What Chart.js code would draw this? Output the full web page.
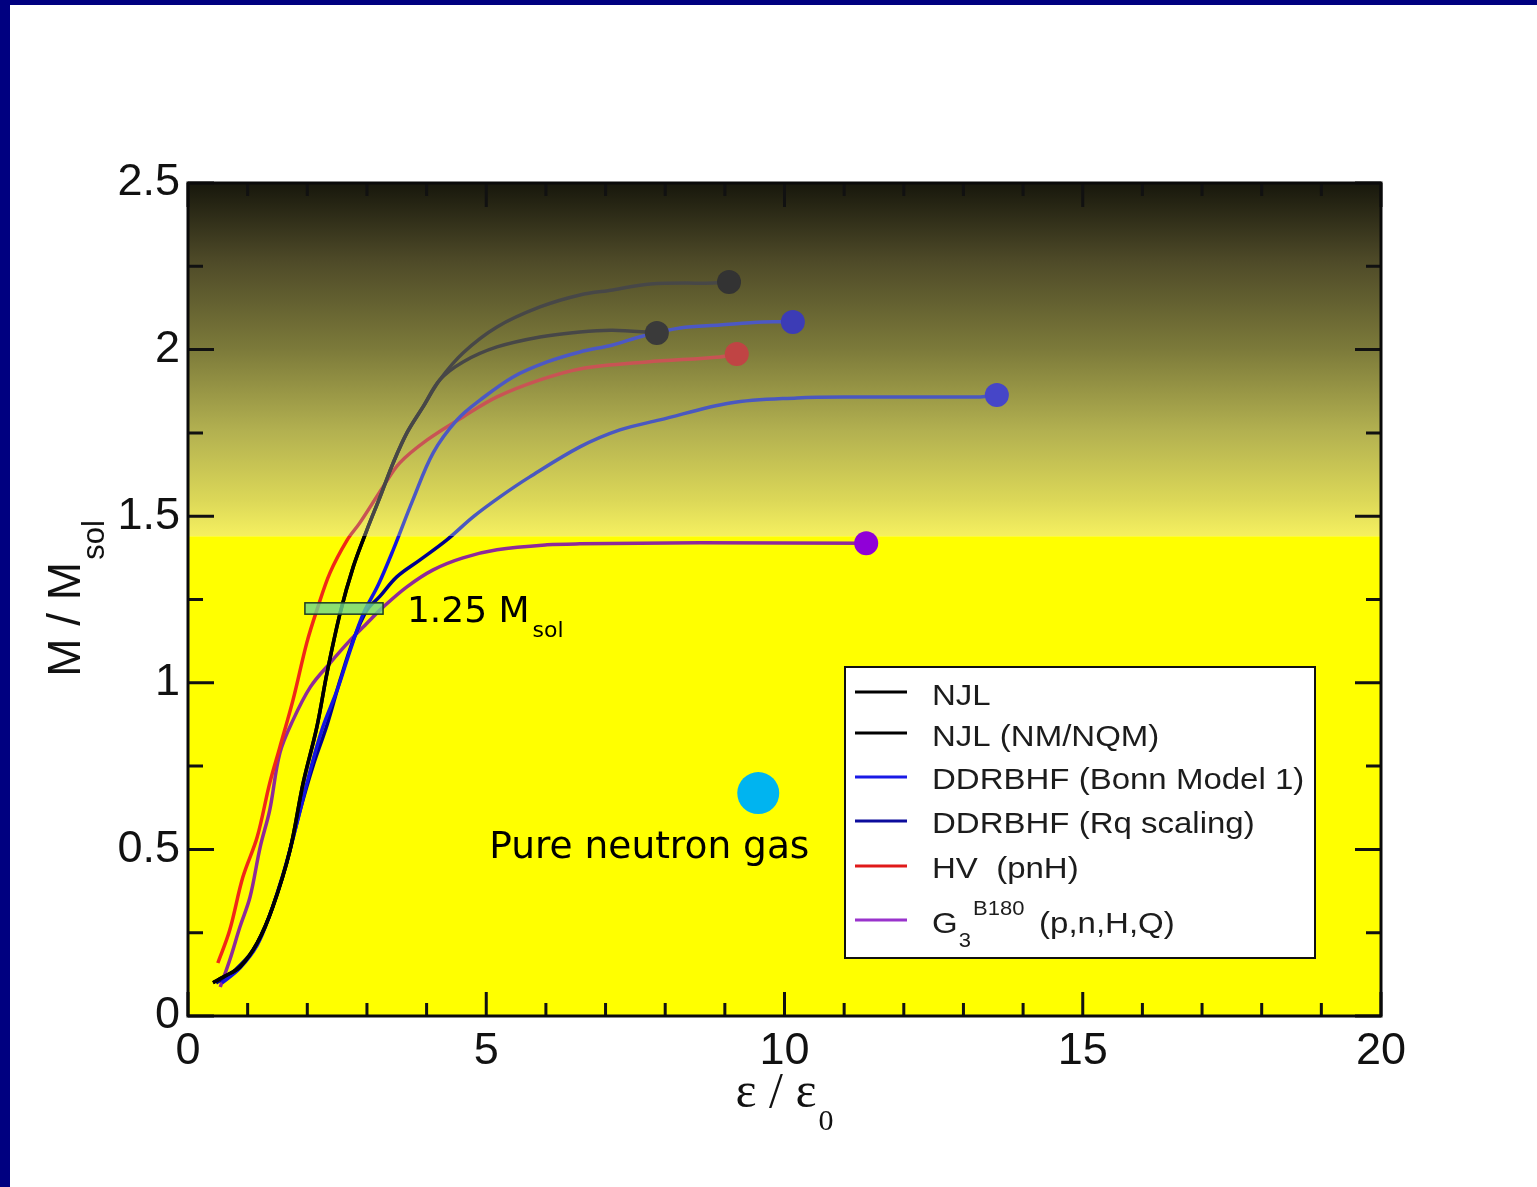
<!DOCTYPE html>
<html>
<head>
<meta charset="utf-8">
<script src="https://cdn.jsdelivr.net/npm/chart.js@4.4.1/dist/chart.umd.min.js"></script>
<style>
  html, body { margin: 0; padding: 0; background: #fff; }
  #wrap { position: relative; width: 1537px; height: 1187px; overflow: hidden; }
  #wrap canvas { position: absolute; left: 0; top: 0; }
  .edge { position: absolute; background: #000080; }
</style>
</head>
<body>
<div id="wrap">
  <canvas id="chart" width="1537" height="1187"></canvas>
  <div class="edge" style="left:0;top:0;width:1537px;height:5px"></div>
  <div class="edge" style="left:0;top:0;width:10px;height:1187px"></div>
</div>
<script>
// mass (M / Msol) against central energy density (eps / eps0)
const njlX = [0.42, 0.59, 0.87, 1.16, 1.42, 1.71, 1.93, 2.16, 2.33, 2.55, 2.77, 3.00, 3.22, 3.44, 3.67, 3.94, 4.22, 4.61, 5.18, 5.90, 6.57, 7.12, 7.75, 8.80, 9.07];
const njlY = [0.100, 0.117, 0.147, 0.219, 0.327, 0.498, 0.699, 0.867, 1.029, 1.209, 1.348, 1.459, 1.558, 1.660, 1.750, 1.828, 1.909, 1.990, 2.068, 2.128, 2.164, 2.179, 2.197, 2.200, 2.203];

const njlNmX = [0.42, 0.59, 0.87, 1.16, 1.42, 1.71, 1.93, 2.16, 2.33, 2.55, 2.77, 3.00, 3.22, 3.44, 3.67, 3.94, 4.22, 4.61, 5.18, 5.90, 6.57, 7.12, 7.86];
const njlNmY = [0.100, 0.117, 0.147, 0.219, 0.327, 0.498, 0.699, 0.867, 1.029, 1.209, 1.348, 1.459, 1.558, 1.660, 1.750, 1.828, 1.909, 1.963, 2.008, 2.038, 2.053, 2.058, 2.050];

const bonnX = [0.57, 0.87, 1.16, 1.37, 1.59, 1.83, 2.05, 2.26, 2.50, 2.72, 2.93, 3.19, 3.44, 3.77, 4.11, 4.51, 4.90, 5.45, 6.02, 6.57, 7.12, 7.63, 8.25, 8.92, 9.64, 10.14];
const bonnY = [0.099, 0.144, 0.213, 0.303, 0.423, 0.582, 0.738, 0.867, 0.978, 1.098, 1.204, 1.294, 1.399, 1.549, 1.690, 1.789, 1.849, 1.918, 1.963, 1.993, 2.014, 2.041, 2.065, 2.074, 2.083, 2.083];

const rqX = [0.47, 0.79, 1.09, 1.37, 1.63, 1.88, 2.10, 2.33, 2.55, 2.77, 3.00, 3.22, 3.50, 3.89, 4.34, 4.78, 5.23, 5.73, 6.57, 7.24, 7.91, 9.09, 10.21, 11.10, 13.28, 13.56];
const rqY = [0.099, 0.138, 0.198, 0.303, 0.444, 0.618, 0.753, 0.873, 1.008, 1.128, 1.218, 1.260, 1.318, 1.369, 1.429, 1.498, 1.558, 1.618, 1.708, 1.759, 1.789, 1.840, 1.855, 1.858, 1.858, 1.864];

const hvX = [0.50, 0.70, 0.92, 1.16, 1.37, 1.54, 1.76, 1.99, 2.16, 2.38, 2.67, 2.88, 3.27, 3.55, 4.01, 4.61, 5.18, 5.90, 6.57, 7.69, 8.92, 9.20];
const hvY = [0.159, 0.258, 0.417, 0.537, 0.699, 0.807, 0.948, 1.119, 1.218, 1.330, 1.429, 1.480, 1.588, 1.660, 1.729, 1.798, 1.858, 1.909, 1.942, 1.963, 1.978, 1.987];

const g3X = [0.54, 0.70, 0.87, 1.04, 1.21, 1.37, 1.54, 1.76, 2.05, 2.38, 2.72, 3.00, 3.27, 3.67, 4.11, 4.61, 5.18, 6.02, 6.57, 8.58, 11.37];
const g3Y = [0.087, 0.168, 0.267, 0.357, 0.507, 0.618, 0.789, 0.888, 0.987, 1.059, 1.128, 1.179, 1.227, 1.288, 1.339, 1.375, 1.399, 1.414, 1.417, 1.420, 1.419];

const legendLabels = ['NJL', 'NJL (NM/NQM)', 'DDRBHF (Bonn Model 1)', 'DDRBHF (Rq scaling)', 'HV  (pnH)', 'G'];
const legendColors = ['#000000', '#000000', '#1a1ae6', '#0c0c9c', '#e01a1a', '#9933cc'];

const xTicks = [0, 5, 10, 15, 20];
const yTicks = [0, 0.5, 1, 1.5, 2, 2.5];

// observed mass band and the neutron gas marker
const SPLIT = 1.44;
const band = { x0: 1.96, x1: 3.27, y0: 1.206, y1: 1.240 };
const bandLabel = { x: 3.67, y: 1.182 };
const gasDot = { x: 9.56, y: 0.669 };
const gasLabel = { x: 5.05, y: 0.474 };

function series(xs, ys) {
  return xs.map((x, i) => ({ x, y: ys[i] }));
}

// line colour changes where it enters the shaded region
function splitStroke(low, high) {
  return ctx => {
    const chart = ctx.chart;
    const area = chart.chartArea;
    if (!area) return low;
    const yp = chart.scales.y.getPixelForValue(SPLIT);
    const f = Math.min(1, Math.max(0, (yp - area.top) / (area.bottom - area.top)));
    const g = chart.ctx.createLinearGradient(0, area.top, 0, area.bottom);
    g.addColorStop(0, high);
    g.addColorStop(f, high);
    g.addColorStop(f, low);
    g.addColorStop(1, low);
    return g;
  };
}

function curve(label, xs, ys, low, high, dot) {
  return {
    label,
    data: series(xs, ys),
    borderColor: splitStroke(low, high),
    borderWidth: 3.5,
    tension: 0.35,
    pointRadius: c => c.dataIndex === xs.length - 1 ? 12 : 0,
    pointHoverRadius: c => c.dataIndex === xs.length - 1 ? 12 : 0,
    pointBackgroundColor: dot,
    pointBorderColor: dot,
    pointBorderWidth: 0,
    fill: false
  };
}

const backdrop = {
  id: 'backdrop',
  beforeDatasetsDraw(chart) {
    const { ctx, chartArea: a, scales } = chart;
    const yp = scales.y.getPixelForValue(SPLIT);
    ctx.save();
    ctx.fillStyle = '#ffff00';
    ctx.fillRect(a.left, yp, a.right - a.left, a.bottom - yp);
    const g = ctx.createLinearGradient(0, a.top, 0, yp);
    g.addColorStop(0, '#17170c');
    g.addColorStop(0.22, '#4e4a28');
    g.addColorStop(0.47, '#7c7a3a');
    g.addColorStop(0.70, '#b2b050');
    g.addColorStop(0.90, '#dcd858');
    g.addColorStop(1, '#f5f060');
    ctx.fillStyle = g;
    ctx.fillRect(a.left, a.top, a.right - a.left, yp - a.top);
    ctx.restore();
  }
};

const frame = {
  id: 'frame',
  afterDatasetsDraw(chart) {
    const { ctx, chartArea: a, scales } = chart;
    const sx = scales.x, sy = scales.y;
    ctx.save();

    // band around 1.25 Msol
    const bx0 = sx.getPixelForValue(band.x0), bx1 = sx.getPixelForValue(band.x1);
    const by0 = sy.getPixelForValue(band.y1), by1 = sy.getPixelForValue(band.y0);
    ctx.fillStyle = 'rgba(110, 215, 140, 0.8)';
    ctx.fillRect(bx0, by0, bx1 - bx0, by1 - by0);
    ctx.strokeStyle = '#1d3a24';
    ctx.lineWidth = 1.5;
    ctx.strokeRect(bx0, by0, bx1 - bx0, by1 - by0);

    // inward ticks on all four sides
    ctx.strokeStyle = '#111';
    ctx.lineWidth = 3;
    ctx.beginPath();
    for (let i = 0; i <= 20; i++) {
      const x = sx.getPixelForValue(i);
      const len = i % 5 === 0 ? 24 : 13;
      ctx.moveTo(x, a.bottom); ctx.lineTo(x, a.bottom - len);
      ctx.moveTo(x, a.top); ctx.lineTo(x, a.top + len);
    }
    for (let i = 0; i <= 10; i++) {
      const y = sy.getPixelForValue(i * 0.25);
      const len = i % 2 === 0 ? 26 : 15;
      ctx.moveTo(a.left, y); ctx.lineTo(a.left + len, y);
      ctx.moveTo(a.right, y); ctx.lineTo(a.right - len, y);
    }
    ctx.stroke();
    ctx.lineWidth = 3;
    ctx.strokeStyle = '#0a0a0a';
    ctx.strokeRect(a.left, a.top, a.right - a.left, a.bottom - a.top);

    // annotations
    ctx.fillStyle = '#000';
    ctx.textBaseline = 'alphabetic';
    ctx.textAlign = 'left';
    const tx = sx.getPixelForValue(bandLabel.x), ty = sy.getPixelForValue(bandLabel.y);
    ctx.font = '36px "DejaVu Sans"';
    ctx.fillText('1.25 M', tx, ty);
    const w = ctx.measureText('1.25 M').width;
    ctx.font = '22px "DejaVu Sans"';
    ctx.fillText('sol', tx + w + 3, ty + 15);

    ctx.font = '37.5px "DejaVu Sans"';
    ctx.fillText('Pure neutron gas', sx.getPixelForValue(gasLabel.x), sy.getPixelForValue(gasLabel.y));
    ctx.fillStyle = '#00b4f0';
    ctx.beginPath();
    ctx.arc(sx.getPixelForValue(gasDot.x), sy.getPixelForValue(gasDot.y), 21, 0, Math.PI * 2);
    ctx.fill();

    // legend box
    const lx = 845, ly = 667, lw = 470, lh = 291;
    ctx.fillStyle = '#fff';
    ctx.fillRect(lx, ly, lw, lh);
    ctx.strokeStyle = '#111';
    ctx.lineWidth = 2;
    ctx.strokeRect(lx, ly, lw, lh);
    const rows = [692, 733, 777, 821, 866, 920];
    const bases = [705, 746, 789, 833, 878, 933];
    legendLabels.forEach((t, i) => {
      ctx.strokeStyle = legendColors[i];
      ctx.lineWidth = 3;
      ctx.beginPath();
      ctx.moveTo(855, rows[i]); ctx.lineTo(907, rows[i]);
      ctx.stroke();
      ctx.fillStyle = '#1c1c1c';
      ctx.font = '30px "Liberation Sans"';
      ctx.save();
      ctx.translate(932, bases[i]);
      ctx.scale(1.1, 1);
      ctx.fillText(t, 0, 0);
      if (i === 5) {
        const gw = ctx.measureText('G').width;
        ctx.font = '20px "Liberation Sans"';
        ctx.fillText('3', gw + 1, 14);
        ctx.fillText('B180', gw + 14, -18);
        ctx.font = '30px "Liberation Sans"';
        ctx.fillText('(p,n,H,Q)', gw + 74, 0);
      }
      ctx.restore();
    });

    // axis titles
    ctx.fillStyle = '#111';
    const cy = (a.top + a.bottom) / 2;
    ctx.font = '46px "Liberation Sans"';
    const mW = ctx.measureText('M / M').width;
    ctx.font = '31px "Liberation Sans"';
    const sW = ctx.measureText('sol').width;
    ctx.save();
    ctx.translate(a.left - 108, cy + (mW + sW) / 2);
    ctx.rotate(-Math.PI / 2);
    ctx.font = '46px "Liberation Sans"';
    ctx.fillText('M / M', 0, 0);
    ctx.font = '31px "Liberation Sans"';
    ctx.fillText('sol', mW + 2, 24);
    ctx.restore();

    const cx = (a.left + a.right) / 2;
    ctx.font = '50px "Liberation Serif"';
    const eW = ctx.measureText('\u03b5 / \u03b5').width;
    ctx.font = '30px "Liberation Serif"';
    const zW = ctx.measureText('0').width;
    const ex = cx - (eW + zW + 2) / 2;
    ctx.font = '50px "Liberation Serif"';
    ctx.fillText('\u03b5 / \u03b5', ex, 1107);
    ctx.font = '30px "Liberation Serif"';
    ctx.fillText('0', ex + eW + 2, 1130);

    ctx.restore();
  }
};

new Chart(document.getElementById('chart'), {
  type: 'line',
  data: {
    datasets: [
      curve('NJL', njlX, njlY, '#000000', '#474747', '#333333'),
      curve('NJL (NM/NQM)', njlNmX, njlNmY, '#000000', '#474747', '#3a3a3a'),
      curve('DDRBHF (Bonn Model 1)', bonnX, bonnY, '#1414e0', '#4c58c4', '#3c3cb6'),
      curve('DDRBHF (Rq scaling)', rqX, rqY, '#00008e', '#4a58c0', '#4646c8'),
      curve('HV (pnH)', hvX, hvY, '#f02818', '#c85454', '#c04444'),
      curve('G3 B180 (p,n,H,Q)', g3X, g3Y, '#8e2a9a', '#8e2a9a', '#9000d8')
    ]
  },
  options: {
    responsive: false,
    animation: false,
    devicePixelRatio: 1,
    layout: { padding: { left: 0, top: 183, right: 156, bottom: 0 } },
    plugins: { legend: { display: false }, tooltip: { enabled: false } },
    scales: {
      x: {
        type: 'linear', min: 0, max: 20,
        afterFit: s => { s.height = 171; },
        afterBuildTicks: s => { s.ticks = xTicks.map(v => ({ value: v })); },
        grid: { display: false, drawTicks: false },
        border: { display: false },
        ticks: { autoSkip: false, maxRotation: 0, padding: 9, color: '#111', font: { family: 'Liberation Sans', size: 45 }, callback: v => String(v) }
      },
      y: {
        type: 'linear', min: 0, max: 2.5,
        afterFit: s => { s.width = 188; },
        afterBuildTicks: s => { s.ticks = yTicks.map(v => ({ value: v })); },
        grid: { display: false, drawTicks: false },
        border: { display: false },
        ticks: { autoSkip: false, padding: 8, color: '#111', font: { family: 'Liberation Sans', size: 45 }, callback: v => String(v) }
      }
    }
  },
  plugins: [backdrop, frame]
});
</script>
</body>
</html>
